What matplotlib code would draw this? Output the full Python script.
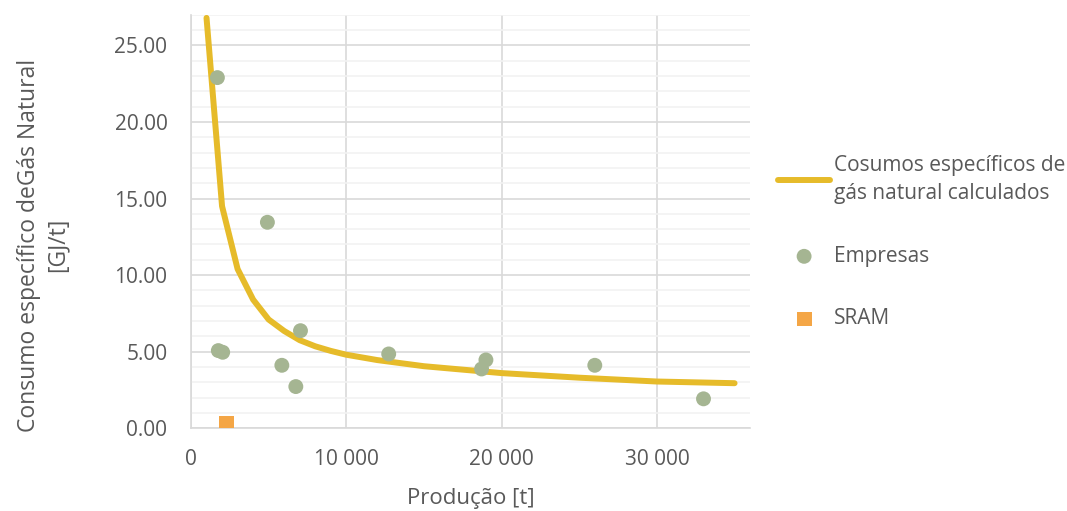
import matplotlib.pyplot as plt
from matplotlib.ticker import MultipleLocator, FuncFormatter

# curve: calculated specific consumption
curve_x = [1000, 2000, 3000, 4000, 5000, 6000, 7000, 8000, 9000, 10000,
           12000, 15000, 20000, 25000, 30000, 35000]
curve_y = [26.8, 14.5, 10.4, 8.4, 7.1, 6.35, 5.75, 5.35, 5.05, 4.8,
           4.45, 4.05, 3.6, 3.3, 3.05, 2.94]

# companies
emp_x = [1700, 4920, 1760, 2040, 5850, 7050, 6750, 12730, 18990, 18710, 26000, 33000]
emp_y = [22.9, 13.45, 5.07, 4.96, 4.11, 6.37, 2.72, 4.85, 4.46, 3.87, 4.11, 1.92]

# SRAM
sram_x = [2300]
sram_y = [0.29]

line_label = "Cosumos específicos de\ngás natural calculados"
emp_label = "Empresas"
sram_label = "SRAM"

plt.rcParams['font.family'] = ['Open Sans', 'DejaVu Sans']
txt = '#595959'

fig = plt.figure(figsize=(10.67, 5.11), dpi=100)
ax = fig.add_axes([0.179, 0.162, 0.524, 0.809])

ax.plot(curve_x, curve_y, color='#E6BB2A', lw=4.3, solid_capstyle='round',
        label=line_label, zorder=3)
ax.scatter(emp_x, emp_y, s=115, color='#A5B592', label=emp_label, zorder=4,
           edgecolors='none')
ax.scatter(sram_x, sram_y, s=115, marker='s', color='#F4A646', label=sram_label,
           zorder=4, edgecolors='none')

ax.set_xlim(0, 36000)
ax.set_ylim(0, 27)
ax.xaxis.set_major_locator(MultipleLocator(10000))
ax.yaxis.set_major_locator(MultipleLocator(5))
ax.yaxis.set_minor_locator(MultipleLocator(1))
ax.xaxis.set_major_formatter(FuncFormatter(lambda v, p: f"{int(v):,}".replace(',', ' ')))
ax.yaxis.set_major_formatter(FuncFormatter(lambda v, p: f"{v:.2f}"))

ax.grid(True, which='major', color='#D9D9D9', lw=1.2)
ax.grid(True, which='minor', axis='y', color='#F2F2F2', lw=1.2)
ax.set_axisbelow(True)

for s in ['top', 'right']:
    ax.spines[s].set_visible(False)
for s in ['left', 'bottom']:
    ax.spines[s].set_color('#D9D9D9')
    ax.spines[s].set_linewidth(1.2)

ax.tick_params(which='both', length=0, labelsize=15, labelcolor=txt)
ax.tick_params(axis='y', pad=17)
ax.tick_params(axis='x', pad=15)

ax.set_xlabel("Produção [t]", fontsize=16, color=txt, labelpad=13)
ax.set_ylabel("Consumo específico deGás Natural\n[GJ/t]", fontsize=16.5, color=txt,
              linespacing=1.25)
ax.yaxis.set_label_coords(-0.218, 0.443)

leg = ax.legend(loc='center left', bbox_to_anchor=(1.05, 0.45), frameon=False,
                fontsize=15, handlelength=2.5, handletextpad=0.2, labelspacing=2.0,
                borderpad=0, borderaxespad=0)
for t in leg.get_texts():
    t.set_color(txt)
    t.set_linespacing(1.45)

fig.savefig('out.png', dpi=100)
